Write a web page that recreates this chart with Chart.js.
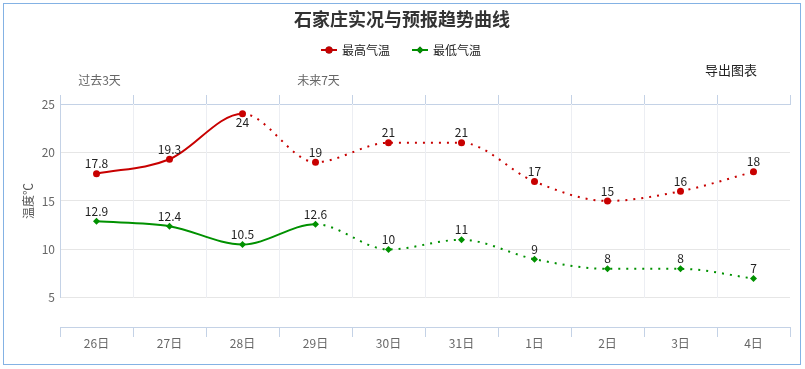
<!DOCTYPE html>
<html>
<head>
<meta charset="utf-8">
<script src="https://cdn.jsdelivr.net/npm/chart.js@4/dist/chart.umd.min.js"></script>
<style>
  body { margin: 0; background: #fff; }
  #wrap { position: relative; width: 805px; height: 369px; }
  #frame { position: absolute; left: 3px; top: 3px; width: 796px; height: 360px; border: 1px solid #84b2e4; }
  #grafico { position: absolute; left: 0; top: 0; }
  #exportar { position: absolute; left: 705px; top: 60px; font: 13px "Noto Sans CJK SC", sans-serif; color: #222; }
</style>
</head>
<body>
<div id="wrap">
  <div id="frame"></div>
  <canvas id="grafico" width="805" height="369"></canvas>
  <div id="exportar">导出图表</div>
</div>
<script>
const titulo = '石家庄实况与预报趋势曲线';
const tituloEixoY = '温度℃';
const dias = ['26日', '27日', '28日', '29日', '30日', '31日', '1日', '2日', '3日', '4日'];
const periodos = ['过去3天', '', '', '未来7天', '', '', '', '', '', ''];
const nomeMax = '最高气温';
const nomeMin = '最低气温';
const tempMax = [17.8, 19.3, 24, 19, 21, 21, 17, 15, 16, 18];
const tempMin = [12.9, 12.4, 10.5, 12.6, 10, 11, 9, 8, 8, 7];
// index of the last observed value (after it the forecast is dotted)
const ultimoRealMax = 2;
const ultimoRealMin = 3;

const corMax = '#c80000';
const corMin = '#009100';
const corEixo = '#c4d2e6';
const fonte = '"Noto Sans CJK SC", "Noto Sans", sans-serif';

function tracejado(limite) {
  return ctx => ctx.p0DataIndex >= limite ? [2, 6] : undefined;
}

// ------------ extras: title, legend, labels, grid ------------
const extras = {
  id: 'extras',
  beforeDatasetsDraw(chart) {
    const { ctx, scales: { x, y } } = chart;
    const topo = y.getPixelForValue(25);
    const base = y.getPixelForValue(5);
    ctx.save();
    ctx.lineWidth = 1;
    ctx.strokeStyle = '#eceef3';
    for (let i = 1; i < dias.length; i++) {
      const px = Math.round((x.getPixelForValue(i - 1) + x.getPixelForValue(i)) / 2) + 0.5;
      ctx.beginPath();
      ctx.moveTo(px, topo);
      ctx.lineTo(px, base);
      ctx.stroke();
    }
    ctx.strokeStyle = corEixo;
    const lx = Math.round(chart.chartArea.left) + 0.5;
    ctx.beginPath();
    ctx.moveTo(lx, topo);
    ctx.lineTo(lx, base);
    ctx.stroke();
    ctx.restore();
  },
  afterDatasetsDraw(chart) {
    const { ctx, chartArea } = chart;
    ctx.save();
    ctx.font = '12px ' + fonte;
    ctx.fillStyle = '#222';
    ctx.textAlign = 'center';
    chart.data.datasets.forEach((ds, i) => {
      chart.getDatasetMeta(i).data.forEach((p, j) => {
        const txt = String(ds.data[j]);
        if (p.y - 20 < chartArea.top) {
          ctx.textBaseline = 'top';
          ctx.fillText(txt, p.x, p.y + 3);
        } else {
          ctx.textBaseline = 'bottom';
          ctx.fillText(txt, p.x, p.y - 4);
        }
      });
    });
    ctx.restore();
  },
  afterDraw(chart) {
    const { ctx, scales: { y } } = chart;
    ctx.save();
    // title
    ctx.fillStyle = '#333';
    ctx.font = 'bold 18px ' + fonte;
    ctx.textAlign = 'center';
    ctx.textBaseline = 'middle';
    ctx.fillText(titulo, 402, 19);

    // legend
    ctx.font = '12px ' + fonte;
    ctx.textAlign = 'left';
    let lx = 321;
    chart.data.datasets.forEach(ds => {
      ctx.strokeStyle = ds.borderColor;
      ctx.lineWidth = 2;
      ctx.beginPath();
      ctx.moveTo(lx, 50);
      ctx.lineTo(lx + 16, 50);
      ctx.stroke();
      Chart.helpers.drawPoint(ctx, { pointStyle: ds.pointStyle, radius: ds.pointRadius, borderWidth: 0 }, lx + 8, 50);
      ctx.fillStyle = ds.borderColor;
      ctx.fill();
      ctx.fillStyle = '#222';
      ctx.fillText(ds.label, lx + 21, 50);
      lx += 91;
    });

    // y axis title
    ctx.fillStyle = '#555';
    ctx.translate(28, (y.getPixelForValue(25) + y.getPixelForValue(5)) / 2);
    ctx.rotate(-Math.PI / 2);
    ctx.textAlign = 'center';
    ctx.fillText(tituloEixoY, 0, 0);
    ctx.restore();
  }
};

new Chart(document.getElementById('grafico'), {
  type: 'line',
  data: {
    labels: dias,
    datasets: [
      {
        label: nomeMax,
        data: tempMax,
        borderColor: corMax,
        backgroundColor: corMax,
        borderWidth: 2,
        pointStyle: 'circle',
        pointRadius: 3.5,
        pointBorderWidth: 0,
        cubicInterpolationMode: 'monotone',
        segment: { borderDash: tracejado(ultimoRealMax) }
      },
      {
        label: nomeMin,
        data: tempMin,
        borderColor: corMin,
        backgroundColor: corMin,
        borderWidth: 2,
        pointStyle: 'rectRot',
        pointRadius: 3.5,
        pointBorderWidth: 0,
        cubicInterpolationMode: 'monotone',
        segment: { borderDash: tracejado(ultimoRealMin) }
      }
    ]
  },
  options: {
    responsive: false,
    animation: false,
    layout: { padding: { top: 60, left: 0, right: 15, bottom: 0 } },
    plugins: {
      legend: { display: false },
      title: { display: false },
      tooltip: { enabled: false }
    },
    scales: {
      x: {
        type: 'category',
        position: 'bottom',
        offset: true,
        grid: { offset: true, drawOnChartArea: false, tickLength: 10, color: corEixo },
        border: { color: corEixo },
        ticks: { color: '#666', font: { family: fonte, size: 12 }, padding: -1, maxRotation: 0, autoSkip: false },
        afterFit: s => { s.height = 42; }
      },
      x2: {
        type: 'category',
        position: 'top',
        labels: periodos,
        offset: true,
        grid: { offset: true, drawOnChartArea: false, tickLength: 9, color: corEixo },
        border: { color: corEixo },
        ticks: { color: '#666', font: { family: fonte, size: 12 }, padding: 7, maxRotation: 0, autoSkip: false, labelOffset: 3 },
        afterFit: s => { s.height = 44; }
      },
      y: {
        min: 2,
        max: 25,
        border: { display: false },
        grid: { color: '#e6e6e6', drawTicks: false },
        ticks: { stepSize: 5, color: '#666', font: { family: fonte, size: 12 }, padding: 5 },
        afterBuildTicks: s => { s.ticks = s.ticks.filter(t => t.value % 5 === 0); },
        afterFit: s => { s.width = 60; }
      }
    }
  },
  plugins: [extras]
});
</script>
</body>
</html>
